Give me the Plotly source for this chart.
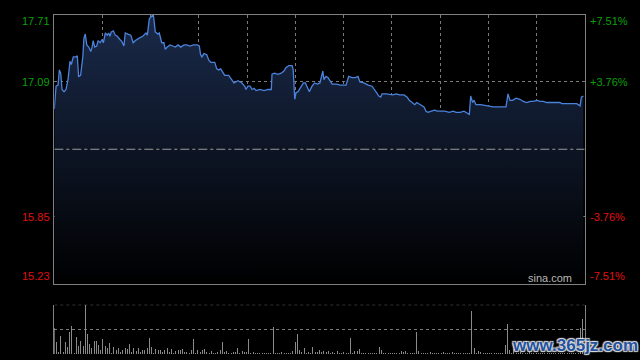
import plotly.graph_objects as go

# ---- data ----
minutes = [0,0.8,1.7,2.3,2.9,3.5,4.4,5.3,6.2,7.1,
           7.7,8.6,9.8,10.4,11.0,11.9,12.9,13.4,14.0,14.7,
           15.6,16.5,17.1,17.6,18.3,19.2,19.8,20.7,21.6,22.2,
           23.1,24.0,24.6,25.2,25.8,26.7,27.6,28.5,29.7,30.6,
           31.5,32.1,33.3,34.6,35.7,36.7,38.2,40.0,41.5,42.1,
           43.0,43.9,44.8,45.7,46.9,47.5,48.6,49.6,50.2,51.1,
           52.4,53.6,54.8,56.0,57.2,58.7,59.9,61.4,62.9,64.7,
           65.6,66.2,66.8,67.7,69.0,69.9,70.8,72.6,73.5,74.4,
           75.3,76.2,77.1,78.9,80.1,81.3,83.1,84.9,86.2,86.7,
           87.6,88.6,89.5,90.4,91.3,93.1,94.9,96.7,98.2,98.5,
           99.7,101.2,102.7,103.9,104.8,106.1,107.6,108.1,108.8,109.4,
           110.3,111.5,112.7,113.6,114.5,115.4,116.6,117.8,119.0,120.2,
           121.5,122.0,122.9,123.8,124.8,125.7,127.8,129.3,132.0,133.2,
           134.7,136.2,137.4,138.3,140.1,142.0,143.8,145.0,146.2,146.8,
           147.7,148.3,150.1,153.1,154.9,156.1,158.2,159.7,160.6,161.9,
           163.1,164.0,164.9,166.1,167.3,168.2,169.1,170.6,172.1,173.3,
           175.1,176.7,178.7,180.5,181.8,183.6,185.4,186.9,187.8,188.4,
           189.3,189.9,190.8,192.9,195.7,198.6,201.7,204.4,205.3,206.2,
           207.4,208.9,210.7,212.2,213.8,215.3,216.7,218.3,219.8,221.3,
           222.8,225.8,228.8,229.7,233.4,236.4,237.9,238.5,239.4]

prices = [16.84,17.05,17.06,17.20,17.17,17.02,17.00,17.02,17.11,17.28,
          17.25,17.32,17.32,17.33,17.14,17.15,17.32,17.49,17.53,17.43,
          17.41,17.37,17.41,17.47,17.41,17.42,17.47,17.45,17.48,17.45,
          17.54,17.52,17.54,17.51,17.55,17.56,17.52,17.51,17.48,17.46,
          17.42,17.54,17.53,17.52,17.45,17.47,17.49,17.51,17.54,17.52,
          17.67,17.69,17.71,17.55,17.53,17.54,17.45,17.45,17.39,17.41,
          17.43,17.42,17.41,17.43,17.41,17.43,17.43,17.42,17.43,17.43,
          17.42,17.34,17.32,17.35,17.34,17.29,17.27,17.27,17.21,17.20,
          17.21,17.18,17.15,17.15,17.11,17.08,17.10,17.08,17.05,17.02,
          17.05,17.05,17.02,17.03,17.01,17.02,17.01,17.02,17.02,17.16,
          17.17,17.16,17.17,17.19,17.22,17.24,17.24,17.20,16.93,16.99,
          17.00,17.04,17.08,17.08,17.03,17.00,17.05,17.08,17.07,17.08,
          17.19,17.11,17.14,17.13,17.10,17.07,17.07,17.06,17.06,17.14,
          17.13,17.13,17.14,17.09,17.08,17.06,17.05,17.02,16.98,16.96,
          16.95,16.98,16.98,16.97,16.98,16.97,16.97,16.95,16.92,16.90,
          16.88,16.90,16.89,16.88,16.86,16.82,16.81,16.82,16.83,16.82,
          16.82,16.82,16.81,16.82,16.81,16.81,16.82,16.80,16.79,16.96,
          16.90,16.92,16.88,16.88,16.87,16.86,16.86,16.86,16.98,16.92,
          16.92,16.94,16.93,16.91,16.90,16.91,16.91,16.92,16.91,16.91,
          16.90,16.90,16.90,16.89,16.89,16.89,16.87,16.95,16.96]

volumes = [1.05,0.48,0.10,0.74,0.10,0.48,0.31,0.90,1.14,0.07,
           0.69,0.34,0.55,0.34,2.00,0.82,0.42,0.24,0.55,0.55,
           0.38,0.17,0.62,0.34,0.26,0.47,0.07,0.28,0.17,0.24,
           0.11,0.17,0.24,0.20,0.42,0.11,0.24,0.14,0.24,0.11,
           0.17,0.17,0.24,0.66,0.28,0.07,0.20,0.17,0.17,0.11,
           0.17,0.24,0.11,0.20,0.07,0.14,0.17,0.17,0.20,0.10,
           0.11,0.07,0.17,0.60,0.07,0.17,0.11,0.17,0.20,0.11,
           0.07,0.14,0.07,0.07,0.11,0.17,0.50,0.11,0.14,0.07,
           0.07,0.10,0.10,0.26,0.07,0.14,0.10,0.11,0.60,0.07,
           0.10,0.05,0.07,0.05,0.05,0.05,0.05,0.05,0.05,1.10,
           0.05,0.05,0.05,0.11,0.05,0.05,0.07,0.05,0.14,0.50,
           0.82,0.17,0.11,0.24,0.07,0.11,0.07,0.28,0.11,0.11,
           0.17,0.11,0.14,0.11,0.14,0.07,0.11,0.07,0.14,0.07,
           0.07,0.11,0.07,0.07,0.66,0.07,0.14,0.14,0.21,0.07,
           0.07,0.07,0.07,0.07,0.07,0.07,0.07,0.28,0.17,0.07,
           0.07,0.07,0.07,0.07,0.07,0.07,0.07,0.14,0.10,0.12,
           0.07,0.07,0.07,0.07,0.90,0.12,0.07,0.07,0.07,0.07,
           0.10,0.07,0.07,0.07,0.07,0.07,0.10,0.07,0.07,0.07,
           0.10,0.07,0.07,0.07,0.07,0.07,0.07,0.07,0.07,1.75,
           0.24,0.07,0.12,0.10,0.07,0.07,0.07,0.07,0.07,0.07,
           0.07,0.07,0.07,0.07,0.37,1.24,0.17,0.07,0.20,0.07,
           0.07,0.10,0.07,0.07,0.07,0.10,0.07,0.07,0.07,0.07,
           0.07,0.07,0.07,0.07,0.07,0.07,0.07,0.07,0.07,0.07,
           0.07,0.07,0.07,0.07,0.07,0.07,0.07,0.07,1.05,1.42]
vol_minutes = list(range(len(volumes)))

prev_close = 16.47
price_ticks = [17.71, 17.09, 15.85, 15.23]
price_tick_labels = ["17.71", "17.09", "15.85", "15.23"]
pct_tick_labels = ["+7.51%", "+3.76%", "-3.76%", "-7.51%"]
n_minutes = 240
n_vcols = 11

GREEN = "#0aa00a"
RED = "#e01010"
GRID = "#7a7a7a"
FRAME = "#808080"
FONT = "Liberation Sans, Arial, sans-serif"

XD = [54.3 / 640, 584.7 / 640]
YD_MAIN = [76 / 360, 345.5 / 360]
YD_VOL = [5.7 / 360, 55.3 / 360]

fig = go.Figure()
fig.add_trace(go.Scatter(
    x=minutes, y=prices, mode="lines",
    line=dict(color="#4a82dc", width=1.3),
    fill="tozeroy",
    fillgradient=dict(type="vertical", start=15.23, stop=17.71,
                      colorscale=[[0, "#000000"], [1, "#1a2a4a"]]),
    xaxis="x", yaxis="y", hoverinfo="skip",
))
fig.add_trace(go.Bar(
    x=vol_minutes, y=volumes, marker=dict(color="#8a8a8a", line=dict(width=0)),
    width=0.45, xaxis="x2", yaxis="y2", hoverinfo="skip",
))

vgrid = [i * n_minutes / n_vcols for i in range(1, n_vcols)]

fig.update_layout(
    width=640, height=360,
    margin=dict(l=0, r=0, t=0, b=0),
    paper_bgcolor="black", plot_bgcolor="black",
    showlegend=False,
    font=dict(family=FONT, size=11),
    bargap=0,
    xaxis=dict(domain=XD, range=[0, n_minutes], anchor="y",
               tickvals=vgrid, showticklabels=False, ticks="",
               showgrid=True, gridcolor=GRID, griddash="dot", gridwidth=1,
               showline=True, linecolor=FRAME, linewidth=1, mirror=True,
               zeroline=False, fixedrange=True),
    yaxis=dict(domain=YD_MAIN, range=[15.23, 17.71], anchor="x",
               tickvals=[17.09, 15.85], showticklabels=False, ticks="",
               showgrid=True, gridcolor=GRID, griddash="dot", gridwidth=1,
               showline=True, linecolor=FRAME, linewidth=1, mirror=True,
               zeroline=False, fixedrange=True),
    xaxis2=dict(domain=XD, range=[0, n_minutes], anchor="y2",
                showticklabels=False, ticks="", showgrid=False,
                showline=False, zeroline=False, fixedrange=True),
    yaxis2=dict(domain=YD_VOL, range=[0, 2], anchor="x2",
                tickvals=[1], showticklabels=False, ticks="",
                showgrid=True, gridcolor=GRID, griddash="dot", gridwidth=1,
                showline=True, linecolor=FRAME, linewidth=1, mirror=True,
                zeroline=False, fixedrange=True),
)

shapes = [
    dict(type="line", xref="x", yref="y", x0=0, x1=n_minutes,
         y0=prev_close, y1=prev_close,
         line=dict(color="#9a9a9a", width=1, dash="dashdot")),
    dict(type="line", xref="x2", yref="y2", x0=0, x1=n_minutes, y0=2, y1=2,
         line=dict(color=GRID, width=1, dash="dot")),
]
fig.update_layout(shapes=shapes)

ann = []
for i, (v, lt, rt) in enumerate(zip(price_ticks, price_tick_labels, pct_tick_labels)):
    col = GREEN if v > prev_close else RED
    if i == 0:
        ya = "top"; ys = 1
    elif i == len(price_ticks) - 1:
        ya = "bottom"; ys = 0
    else:
        ya = "middle"; ys = 0
    ann.append(dict(xref="paper", yref="y", x=52 / 640, y=v, text=lt,
                    xanchor="right", yanchor=ya, yshift=ys, showarrow=False,
                    font=dict(color=col, size=11, family=FONT)))
    ann.append(dict(xref="paper", yref="y", x=588 / 640, y=v, text=rt,
                    xanchor="left", yanchor=ya, yshift=ys, showarrow=False,
                    font=dict(color=col, size=11, family=FONT)))

ann.append(dict(xref="paper", yref="y", x=574 / 640, y=15.23, text="sina.com",
                xanchor="right", yanchor="bottom", yshift=-2, showarrow=False,
                font=dict(color="#b8b8b8", size=11, family=FONT)))
ann.append(dict(xref="paper", yref="paper", x=575 / 640, y=15 / 360,
                text="<b>www.365jz.com</b>", xanchor="center", yanchor="middle",
                showarrow=False,
                font=dict(color="#1f52a0", size=17, family=FONT,
                          shadow="1px 1px 1px #dddddd, -1px -1px 1px #dddddd, 1px -1px 1px #dddddd, -1px 1px 1px #dddddd")))
fig.update_layout(annotations=ann)

fig.write_html(
    "out.html",
    config={"displayModeBar": False, "staticPlot": True},
    post_script="document.body.style.margin='0';document.body.style.background='black';",
)
